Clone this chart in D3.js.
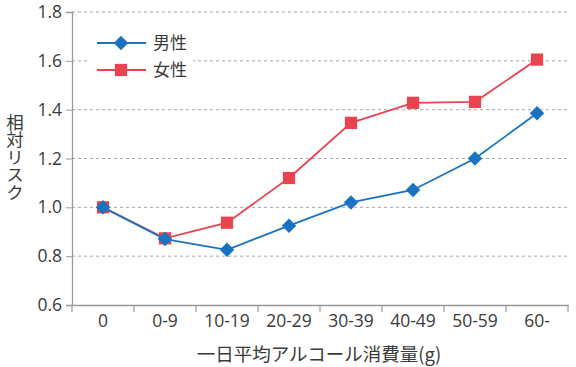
<!DOCTYPE html>
<html lang="ja">
  <head>
    <meta charset="utf-8" />
    <title>相対リスク</title>
    <script src="https://cdnjs.cloudflare.com/ajax/libs/d3/7.8.5/d3.min.js"></script>
    <style>
      body {
        margin: 0;
        background: #fff;
        font-family: "Noto Sans CJK JP", "Noto Sans", sans-serif;
      }
      .grid line {
        stroke: #a6a6a6;
        stroke-dasharray: 3 3;
      }
      text {
        fill: #3a3a3a;
      }
    </style>
  </head>
  <body>
    <div id="chart"></div>
    <script>
      // data
      const categories = ["0", "0-9", "10-19", "20-29", "30-39", "40-49", "50-59", "60-"];
      const male = [1.0, 0.87, 0.826, 0.925, 1.02, 1.071, 1.2, 1.385];
      const female = [1.0, 0.873, 0.937, 1.12, 1.346, 1.428, 1.432, 1.605];
      const yTicks = [0.6, 0.8, 1.0, 1.2, 1.4, 1.6, 1.8];

      const width = 576, height = 367;
      const margin = { left: 72, right: 8, top: 12, bottom: 62 };

      const svg = d3.select("#chart").append("svg")
        .attr("width", width)
        .attr("height", height);

      const x = d3.scaleBand()
        .domain(categories)
        .range([margin.left, width - margin.right]);

      const y = d3.scaleLinear()
        .domain([0.6, 1.8])
        .range([height - margin.bottom, margin.top]);

      // dashed gridlines
      svg.append("g")
        .attr("class", "grid")
        .selectAll("line")
        .data(yTicks.slice(1))
        .enter()
        .append("line")
        .attr("x1", margin.left)
        .attr("x2", width - margin.right)
        .attr("y1", (d) => y(d))
        .attr("y2", (d) => y(d));

      // y axis
      const yAxis = svg.append("g")
        .attr("transform", `translate(${margin.left},0)`)
        .call(d3.axisLeft(y).tickValues(yTicks).tickFormat(d3.format(".1f")).tickSize(6).tickPadding(4));
      yAxis.select(".domain").attr("stroke", "#999").attr("stroke-width", 1.3);
      yAxis.selectAll(".tick line").attr("stroke", "#999");
      yAxis.selectAll("text").attr("font-size", 17.5).attr("font-family", "Open Sans, sans-serif").attr("fill", "#3a3a3a");

      // x axis
      const xAxis = svg.append("g")
        .attr("transform", `translate(0,${height - margin.bottom})`)
        .call(d3.axisBottom(x).tickSize(0).tickPadding(10));
      xAxis.select(".domain").attr("stroke", "#999").attr("stroke-width", 1.3);
      xAxis.selectAll("text").attr("font-size", 17.5).attr("font-family", "Open Sans, sans-serif").attr("fill", "#3a3a3a");
      // category separators
      svg.append("g")
        .selectAll("line")
        .data(categories.concat(["end"]))
        .enter()
        .append("line")
        .attr("x1", (d, i) => margin.left + i * x.step())
        .attr("x2", (d, i) => margin.left + i * x.step())
        .attr("y1", height - margin.bottom)
        .attr("y2", height - margin.bottom + 7)
        .attr("stroke", "#999")
        .attr("stroke-width", 1.2);

      // axis titles
      svg.append("text")
        .attr("x", 319)
        .attr("y", 361)
        .attr("text-anchor", "middle")
        .attr("font-size", 18.5)
        .text("一日平均アルコール消費量(g)");

      svg.append("text")
        .attr("transform", "translate(15,157)")
        .attr("text-anchor", "middle")
        .attr("writing-mode", "vertical-rl")
        .attr("font-size", 17.5)
        .text("相対リスク");

      const cx = (d, i) => x(categories[i]) + x.bandwidth() / 2;
      const line = d3.line().x((d, i) => cx(d, i)).y((d) => y(d));

      const red = "#e8434f", blue = "#1a73c0";
      const diamond = d3.symbol().type(d3.symbolSquare).size(105);
      const square = d3.symbol().type(d3.symbolSquare).size(150);

      // female series
      svg.append("path")
        .datum(female)
        .attr("fill", "none")
        .attr("stroke", red)
        .attr("stroke-width", 1.8)
        .attr("d", line);
      svg.append("g")
        .selectAll("path")
        .data(female)
        .enter()
        .append("path")
        .attr("d", square)
        .attr("fill", red)
        .attr("transform", (d, i) => `translate(${cx(d, i)},${y(d)})`);

      // male series
      svg.append("path")
        .datum(male)
        .attr("fill", "none")
        .attr("stroke", blue)
        .attr("stroke-width", 1.8)
        .attr("d", line);
      svg.append("g")
        .selectAll("path")
        .data(male)
        .enter()
        .append("path")
        .attr("d", diamond)
        .attr("fill", blue)
        .attr("transform", (d, i) => `translate(${cx(d, i)},${y(d)}) rotate(45)`);

      // legend
      const legend = svg.append("g");
      legend.append("rect")
        .attr("x", 87).attr("y", 28)
        .attr("width", 106).attr("height", 56)
        .attr("fill", "#fff");
      const entries = [
        { name: "男性", color: blue, sym: diamond, rot: 45, y: 43 },
        { name: "女性", color: red, sym: square, rot: 0, y: 70 }
      ];
      entries.forEach((e) => {
        legend.append("line")
          .attr("x1", 97).attr("x2", 146)
          .attr("y1", e.y).attr("y2", e.y)
          .attr("stroke", e.color).attr("stroke-width", 1.8);
        legend.append("path")
          .attr("d", e.sym)
          .attr("fill", e.color)
          .attr("transform", `translate(121,${e.y}) rotate(${e.rot})`);
        legend.append("text")
          .attr("x", 153).attr("y", e.y + 6)
          .attr("font-size", 17)
          .text(e.name);
      });
    </script>
  </body>
</html>
